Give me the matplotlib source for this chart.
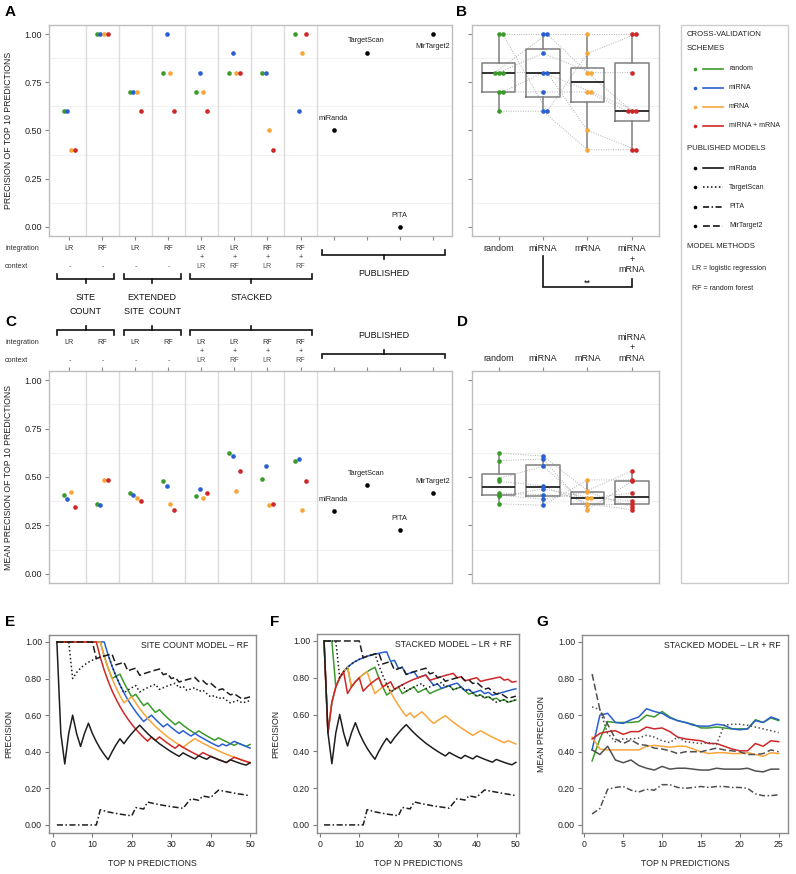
import matplotlib.pyplot as plt
import matplotlib.transforms as mtransforms
import numpy as np

plt.rcParams['font.family'] = ['Liberation Sans', 'DejaVu Sans']

W, H = 796, 874

# ---------------- data ----------------
schemes = ['random', 'miRNA', 'mRNA', 'miRNA + mRNA']
scheme_ticks = ['random', 'miRNA', 'mRNA', 'miRNA\n+\nmRNA']
integration = ['LR', 'RF', 'LR', 'RF', 'LR', 'LR', 'RF', 'RF']
stack_plus = ['', '', '', '', '+', '+', '+', '+']
context = ['-', '-', '-', '-', 'LR', 'RF', 'LR', 'RF']
published = ['miRanda', 'TargetScan', 'PITA', 'MirTarget2']

# precision of top 10 predictions (8 models per scheme)
prec10_random = [0.6, 1.0, 0.7, 0.8, 0.7, 0.8, 0.8, 1.0]
prec10_mirna = [0.6, 1.0, 0.7, 1.0, 0.8, 0.9, 0.8, 0.6]
prec10_mrna = [0.4, 1.0, 0.7, 0.8, 0.7, 0.8, 0.5, 0.9]
prec10_both = [0.4, 1.0, 0.6, 0.6, 0.6, 0.8, 0.4, 1.0]
prec10_pub = [0.5, 0.9, 0.0, 1.0]

# mean precision of top 10 predictions
mean10_random = [0.407, 0.362, 0.416, 0.478, 0.400, 0.624, 0.492, 0.584]
mean10_mirna = [0.385, 0.354, 0.409, 0.454, 0.438, 0.608, 0.555, 0.593]
mean10_mrna = [0.423, 0.485, 0.393, 0.362, 0.393, 0.430, 0.354, 0.331]
mean10_both = [0.347, 0.485, 0.378, 0.331, 0.418, 0.532, 0.362, 0.477]
mean10_pub = [0.324, 0.459, 0.224, 0.416]

# precision at top N (N = 1..50), published models
miranda_prec = [1.0, 0.5, 0.333, 0.5, 0.6, 0.5, 0.429, 0.5, 0.556, 0.5,
                0.455, 0.417, 0.385, 0.357, 0.4, 0.438, 0.471, 0.444, 0.474, 0.5,
                0.524, 0.545, 0.522, 0.5, 0.48, 0.462, 0.444, 0.429, 0.414, 0.4,
                0.387, 0.375, 0.394, 0.382, 0.371, 0.361, 0.378, 0.368, 0.359, 0.375,
                0.366, 0.357, 0.349, 0.341, 0.356, 0.348, 0.34, 0.333, 0.327, 0.34]
targetscan_prec = [1, 1, 1, 1, 0.8, 0.833, 0.857, 0.875, 0.889, 0.9,
                   0.909, 0.917, 0.923, 0.929, 0.867, 0.813, 0.765, 0.722, 0.737, 0.75,
                   0.762, 0.727, 0.739, 0.75, 0.76, 0.769, 0.741, 0.75, 0.759, 0.767,
                   0.774, 0.75, 0.758, 0.735, 0.743, 0.75, 0.73, 0.737, 0.718, 0.7,
                   0.707, 0.69, 0.698, 0.682, 0.667, 0.674, 0.681, 0.667, 0.673, 0.68]
pita_prec = [0, 0, 0, 0, 0, 0, 0, 0, 0, 0,
             0, 0.083, 0.077, 0.071, 0.067, 0.063, 0.059, 0.056, 0.053, 0.05,
             0.095, 0.091, 0.087, 0.125, 0.12, 0.115, 0.111, 0.107, 0.103, 0.1,
             0.097, 0.094, 0.091, 0.118, 0.143, 0.139, 0.135, 0.158, 0.154, 0.15,
             0.171, 0.19, 0.186, 0.182, 0.178, 0.174, 0.17, 0.167, 0.163, 0.16]
mirtarget2_prec = [1, 1, 1, 1, 1, 1, 1, 1, 1, 1,
                   0.909, 0.917, 0.923, 0.929, 0.933, 0.875, 0.882, 0.889, 0.842, 0.85,
                   0.857, 0.818, 0.826, 0.833, 0.84, 0.846, 0.852, 0.821, 0.828, 0.8,
                   0.806, 0.781, 0.788, 0.794, 0.8, 0.806, 0.784, 0.789, 0.769, 0.775,
                   0.756, 0.738, 0.744, 0.727, 0.711, 0.717, 0.702, 0.688, 0.694, 0.7]

# site count model - RF
green_E = [1, 1, 1, 1, 1, 1, 1, 1, 1, 1,
           1, 1, 0.923, 0.857, 0.8, 0.813, 0.824, 0.778, 0.737, 0.7,
           0.714, 0.682, 0.652, 0.667, 0.64, 0.615, 0.63, 0.607, 0.586, 0.567,
           0.548, 0.563, 0.545, 0.529, 0.514, 0.5, 0.514, 0.5, 0.487, 0.475,
           0.463, 0.476, 0.465, 0.455, 0.444, 0.435, 0.447, 0.438, 0.429, 0.44]
blue_E = [1, 1, 1, 1, 1, 1, 1, 1, 1, 1,
          1, 1, 1, 0.929, 0.867, 0.813, 0.765, 0.722, 0.684, 0.65,
          0.619, 0.591, 0.565, 0.583, 0.6, 0.577, 0.556, 0.536, 0.552, 0.533,
          0.516, 0.5, 0.515, 0.5, 0.486, 0.5, 0.486, 0.474, 0.462, 0.45,
          0.439, 0.429, 0.442, 0.432, 0.444, 0.457, 0.447, 0.438, 0.429, 0.42]
orange_E = [1, 1, 1, 1, 1, 1, 1, 1, 1, 1,
            1, 1, 0.923, 0.857, 0.8, 0.75, 0.706, 0.667, 0.684, 0.7,
            0.667, 0.636, 0.609, 0.583, 0.56, 0.538, 0.519, 0.5, 0.483, 0.467,
            0.452, 0.438, 0.424, 0.441, 0.457, 0.472, 0.459, 0.447, 0.436, 0.425,
            0.415, 0.405, 0.395, 0.386, 0.378, 0.37, 0.362, 0.354, 0.347, 0.34]
red_E = [1, 1, 1, 1, 1, 1, 1, 1, 1, 1,
         1, 0.917, 0.846, 0.786, 0.733, 0.688, 0.647, 0.611, 0.579, 0.55,
         0.524, 0.5, 0.478, 0.458, 0.48, 0.462, 0.481, 0.464, 0.448, 0.433,
         0.419, 0.438, 0.424, 0.412, 0.4, 0.389, 0.378, 0.395, 0.385, 0.375,
         0.366, 0.357, 0.349, 0.341, 0.356, 0.37, 0.362, 0.354, 0.347, 0.34]

# stacked model - LR + RF
green_F = [1, 1, 1, 0.75, 0.8, 0.833, 0.857, 0.75, 0.778, 0.8,
           0.818, 0.833, 0.846, 0.857, 0.8, 0.75, 0.706, 0.722, 0.737, 0.75,
           0.714, 0.727, 0.739, 0.75, 0.72, 0.731, 0.741, 0.714, 0.724, 0.733,
           0.742, 0.75, 0.758, 0.735, 0.743, 0.75, 0.73, 0.711, 0.718, 0.7,
           0.707, 0.69, 0.698, 0.682, 0.689, 0.674, 0.681, 0.667, 0.673, 0.68]
blue_F = [1, 0.5, 0.667, 0.75, 0.8, 0.833, 0.857, 0.875, 0.889, 0.9,
          0.909, 0.917, 0.923, 0.929, 0.933, 0.938, 0.941, 0.889, 0.895, 0.85,
          0.857, 0.818, 0.826, 0.833, 0.8, 0.808, 0.815, 0.786, 0.759, 0.767,
          0.742, 0.75, 0.758, 0.765, 0.771, 0.75, 0.73, 0.737, 0.718, 0.725,
          0.732, 0.714, 0.721, 0.705, 0.711, 0.717, 0.723, 0.729, 0.735, 0.74]
orange_F = [1, 0.5, 0.667, 0.75, 0.8, 0.833, 0.857, 0.75, 0.778, 0.8,
            0.818, 0.833, 0.769, 0.714, 0.733, 0.75, 0.765, 0.722, 0.684, 0.65,
            0.619, 0.591, 0.609, 0.583, 0.6, 0.615, 0.593, 0.571, 0.552, 0.567,
            0.581, 0.594, 0.576, 0.559, 0.543, 0.528, 0.514, 0.5, 0.487, 0.5,
            0.512, 0.5, 0.488, 0.477, 0.467, 0.457, 0.447, 0.458, 0.449, 0.44]
red_F = [1, 0.5, 0.667, 0.75, 0.8, 0.833, 0.714, 0.75, 0.778, 0.8,
         0.727, 0.75, 0.769, 0.786, 0.8, 0.75, 0.765, 0.778, 0.737, 0.75,
         0.762, 0.773, 0.783, 0.792, 0.8, 0.808, 0.815, 0.786, 0.793, 0.8,
         0.806, 0.813, 0.818, 0.824, 0.8, 0.806, 0.784, 0.789, 0.795, 0.8,
         0.78, 0.786, 0.791, 0.795, 0.8, 0.804, 0.787, 0.792, 0.776, 0.78]

# mean precision at top N (N = 1..25), stacked model - LR + RF
green_G = [0.35, 0.47, 0.565, 0.56, 0.56, 0.56, 0.565, 0.6, 0.59, 0.62,
           0.59, 0.57, 0.56, 0.55, 0.53, 0.53, 0.535, 0.53, 0.525, 0.525,
           0.525, 0.575, 0.56, 0.585, 0.57]
blue_G = [0.41, 0.6, 0.61, 0.56, 0.555, 0.575, 0.59, 0.635, 0.62, 0.61,
          0.585, 0.57, 0.56, 0.545, 0.54, 0.54, 0.55, 0.545, 0.525, 0.52,
          0.525, 0.57, 0.56, 0.59, 0.575]
orange_G = [0.48, 0.415, 0.41, 0.41, 0.41, 0.41, 0.41, 0.43, 0.435, 0.43,
            0.425, 0.43, 0.43, 0.415, 0.4, 0.39, 0.395, 0.395, 0.39, 0.39,
            0.395, 0.385, 0.375, 0.395, 0.39]
red_G = [0.47, 0.5, 0.51, 0.515, 0.495, 0.51, 0.51, 0.535, 0.525, 0.53,
         0.51, 0.48, 0.47, 0.465, 0.46, 0.445, 0.445, 0.43, 0.415, 0.405,
         0.405, 0.445, 0.43, 0.46, 0.455]
miranda_G = [0.41, 0.385, 0.43, 0.355, 0.34, 0.355, 0.325, 0.31, 0.3, 0.32,
             0.305, 0.31, 0.31, 0.305, 0.3, 0.3, 0.31, 0.305, 0.305, 0.305,
             0.31, 0.295, 0.29, 0.305, 0.305]
targetscan_G = [0.645, 0.63, 0.5, 0.455, 0.47, 0.47, 0.475, 0.49, 0.48, 0.46,
                0.45, 0.48, 0.455, 0.45, 0.445, 0.45, 0.44, 0.545, 0.55, 0.55,
                0.545, 0.535, 0.525, 0.515, 0.505]
pita_G = [0.06, 0.09, 0.195, 0.205, 0.21, 0.19, 0.18, 0.195, 0.19, 0.22,
          0.22, 0.205, 0.2, 0.205, 0.21, 0.205, 0.21, 0.21, 0.205, 0.205,
          0.2, 0.17, 0.16, 0.16, 0.165]
mirtarget2_G = [0.825, 0.63, 0.55, 0.47, 0.445, 0.465, 0.44, 0.435, 0.42, 0.415,
                0.405, 0.39, 0.4, 0.4, 0.4, 0.41, 0.42, 0.41, 0.405, 0.4,
                0.385, 0.385, 0.39, 0.41, 0.4]

# ---------------- style ----------------
COLORS = ['#3a9a2a', '#2a5fd0', '#f7a63a', '#cf2727']
PUB_STYLES = ['-', (0, (1, 1.6)), (0, (4, 1.6, 1, 1.6)), (0, (4.5, 2))]
DODGE = [-0.18, -0.06, 0.06, 0.18]
TXT = '#222222'

fig = plt.figure(figsize=(W / 100, H / 100), dpi=100, facecolor='white')

ov = fig.add_axes([0, 0, 1, 1])
ov.axis('off')
ov.set_autoscale_on(False)
ov.set_xlim(0, W)
ov.set_ylim(H, 0)


def px_axes(l, t, r, b):
    return fig.add_axes([l / W, 1 - b / H, (r - l) / W, (b - t) / H])


def blend(ax):
    return mtransforms.blended_transform_factory(ax.transData, ov.transData)


def light_frame(ax):
    for s in ax.spines.values():
        s.set_color('#bdbdbd')
        s.set_linewidth(1.0)
    ax.tick_params(color='#888888', length=3, width=0.8, labelsize=6.5,
                   labelcolor=TXT, pad=2)
    for y in [0.125, 0.375, 0.625, 0.875]:
        ax.axhline(y, color='#f1f1f1', lw=0.8, zorder=0)
    ax.set_ylim(-0.047, 1.047)
    ax.set_yticks([0, 0.25, 0.5, 0.75, 1.0])


def dot_panel(ax, groups, pub, label_dy):
    light_frame(ax)
    for j in range(8):
        ax.axvline(j + 1.5, color='#dcdcdc', lw=1.0, zorder=1)
    pos = np.arange(1, 9)
    for vals, c, d in zip(groups, COLORS, DODGE):
        ax.scatter(pos + d, vals, s=11, color=c, linewidths=0, zorder=3)
    ppos = np.arange(9, 13)
    ax.scatter(ppos, pub, s=11, color='black', linewidths=0, zorder=3)
    for x, y, name, dy in zip(ppos, pub, published, label_dy):
        ax.text(x, y + dy, name, ha='center', va='center', fontsize=5.3, color=TXT)
    ax.set_xlim(0.38, 12.59)
    ax.set_xticks(np.arange(1, 13))
    ax.set_xticklabels([])
    ax.set_yticklabels(['0.00', '0.25', '0.50', '0.75', '1.00'])


def box_panel(ax, groups):
    light_frame(ax)
    xs_all = []
    for i, vals in enumerate(groups):
        r = np.round(np.asarray(vals), 3)
        offs = np.zeros(len(r))
        for v in np.unique(r):
            idx = np.where(r == v)[0]
            offs[idx] = (np.arange(len(idx)) - (len(idx) - 1) // 2) * 0.09
        xs_all.append(i + 1 + offs)
    for m in range(len(groups[0])):
        ax.plot([xs[m] for xs in xs_all], [g[m] for g in groups],
                ls=(0, (1, 1.5)), color='#b0b0b0', lw=0.7, zorder=1)
    ax.boxplot(groups, positions=[1, 2, 3, 4], widths=0.75, showfliers=False,
               showcaps=False,
               medianprops=dict(color='#222222', lw=1.3),
               boxprops=dict(color='#7f7f7f', lw=1.1),
               whiskerprops=dict(color='#7f7f7f', lw=1.1))
    for xs, vals, c in zip(xs_all, groups, COLORS):
        ax.scatter(xs, vals, s=11, color=c, linewidths=0, zorder=3)
    ax.set_xlim(0.4, 4.61)
    ax.set_xticks([1, 2, 3, 4])
    ax.set_xticklabels(scheme_ticks, fontsize=6.5)
    ax.set_yticklabels([])


def model_table(ax, y_int, y_plus, y_ctx):
    bt = blend(ax)
    ov.text(5, y_int, 'integration', fontsize=5.2, va='center', color='#333333')
    ov.text(5, y_ctx, 'context', fontsize=5.2, va='center', color='#333333')
    for j in range(8):
        ov.text(j + 1, y_int, integration[j], transform=bt, ha='center',
                va='center', fontsize=5.2, color='#333333')
        ov.text(j + 1, y_plus, stack_plus[j], transform=bt, ha='center',
                va='center', fontsize=5.2, color='#333333')
        ov.text(j + 1, y_ctx, context[j], transform=bt, ha='center',
                va='center', fontsize=5.2, color='#555555')


def bracket(ax, x0, x1, y_end, y_bar, y_tip):
    bt = blend(ax)
    xm = (x0 + x1) / 2
    ov.plot([x0, x0, x1, x1], [y_end, y_bar, y_bar, y_end], transform=bt,
            color='#111111', lw=1.2, solid_joinstyle='miter')
    ov.plot([xm, xm], [y_bar, y_tip], transform=bt, color='#111111', lw=1.2)


def curve_panel(ax, n, colored, black, pub_color, xlim, xticks, ylabel, title,
                ylab_x):
    for vals, c in zip(colored, COLORS):
        ax.plot(n, vals, color=c, lw=1.1)
    for vals, ls in zip(black, PUB_STYLES):
        ax.plot(n, vals, color=pub_color, lw=1.1, ls=ls)
    ax.set_xlim(*xlim)
    ax.set_ylim(-0.044, 1.038)
    ax.set_xticks(xticks)
    ax.set_yticks([0, 0.2, 0.4, 0.6, 0.8, 1.0])
    ax.set_yticklabels(['0.00', '0.20', '0.40', '0.60', '0.80', '1.00'])
    for s in ax.spines.values():
        s.set_color('#8c8c8c')
        s.set_linewidth(1.0)
    ax.tick_params(color='#777777', length=3, width=0.8, labelsize=6.3,
                   labelcolor=TXT, pad=2)
    ax.set_xlabel('TOP N PREDICTIONS', fontsize=6.3, color=TXT)
    ax.xaxis.set_label_coords(0.5, -0.13)
    ax.set_ylabel(ylabel, fontsize=6.3, color=TXT)
    ax.yaxis.set_label_coords(ylab_x, 0.5)
    ax.text(0.965, 0.945, title, transform=ax.transAxes, ha='right',
            va='center', fontsize=6.3, color=TXT)


# ---------------- panel A ----------------
axA = px_axes(49, 25, 452, 236)
dot_panel(axA, [prec10_random, prec10_mirna, prec10_mrna, prec10_both],
          prec10_pub, [0.06, 0.065, 0.06, -0.065])
axA.set_ylabel('PRECISION OF TOP 10 PREDICTIONS', fontsize=6.3, color=TXT)
axA.yaxis.set_label_coords(-0.09, 0.5)
model_table(axA, 248, 257, 267)
for x0, x1 in [(0.62, 2.36), (2.64, 4.37), (4.64, 8.36)]:
    bracket(axA, x0, x1, 274, 279, 283)
bracket(axA, 8.66, 12.38, 250, 255, 259)
ov.text(10.52, 273, 'PUBLISHED', transform=blend(axA), ha='center',
        va='center', fontsize=6.5, color='#111111')

# group names shared by the A and C brackets
group_names = [['SITE', 'COUNT'], ['EXTENDED', 'SITE  COUNT'], ['STACKED']]
group_mid = [1.49, 3.505, 6.5]
for lines, xm in zip(group_names, group_mid):
    for k, t in enumerate(lines):
        ov.text(xm, 297 + 14 * k, t, transform=blend(axA), ha='center',
                va='center', fontsize=6.5, color='#111111')

# ---------------- panel B ----------------
axB = px_axes(472, 25, 659, 236)
box_panel(axB, [prec10_random, prec10_mirna, prec10_mrna, prec10_both])
axB.tick_params(axis='x', pad=3)
bB = blend(axB)
ov.plot([2, 2, 4, 4], [256, 287, 287, 279], transform=bB, color='#111111',
        lw=1.2, solid_joinstyle='miter')
ov.text(3, 283, '**', transform=bB, ha='center', va='center', fontsize=6.5)

# ---------------- panel C ----------------
axC = px_axes(49, 371, 452, 583)
dot_panel(axC, [mean10_random, mean10_mirna, mean10_mrna, mean10_both],
          mean10_pub, [0.06, 0.06, 0.06, 0.062])
axC.xaxis.tick_top()
axC.set_ylabel('MEAN PRECISION OF TOP 10 PREDICTIONS', fontsize=6.3, color=TXT)
axC.yaxis.set_label_coords(-0.09, 0.5)
model_table(axC, 342, 351, 361)
for x0, x1 in [(0.62, 2.36), (2.64, 4.37), (4.64, 8.36)]:
    bracket(axC, x0, x1, 335, 330, 326)
bracket(axC, 8.66, 12.38, 358, 354, 350)
ov.text(10.52, 336, 'PUBLISHED', transform=blend(axC), ha='center',
        va='center', fontsize=6.5, color='#111111')

# ---------------- panel D ----------------
axD = px_axes(472, 371, 659, 583)
box_panel(axD, [mean10_random, mean10_mirna, mean10_mrna, mean10_both])
axD.xaxis.tick_top()
axD.tick_params(axis='x', pad=3)

# ---------------- legend box ----------------
ov.add_patch(plt.Rectangle((681, 25), 107, 558, fill=False, ec='#cccccc', lw=1))
ov.text(687, 35, 'CROSS-VALIDATION', fontsize=5.6, va='center', color=TXT)
ov.text(687, 48, 'SCHEMES', fontsize=5.6, va='center', color=TXT)
for k, (lab, c) in enumerate(zip(schemes, COLORS)):
    y = 69 + 18.9 * k
    ov.plot([695], [y], 'o', ms=2.6, color=c, mec='none')
    ov.plot([703, 723], [y, y], color=c, lw=1.2)
    ov.text(729, y, lab, fontsize=5.0, va='center', color=TXT)
ov.text(687, 148, 'PUBLISHED MODELS', fontsize=5.6, va='center', color=TXT)
for k, (lab, ls) in enumerate(zip(published, PUB_STYLES)):
    y = 168 + 19.3 * k
    ov.plot([695], [y], 'o', ms=2.6, color='black', mec='none')
    ov.plot([703, 723], [y, y], color='black', lw=1.1, ls=ls)
    ov.text(729, y, lab, fontsize=5.0, va='center', color=TXT)
ov.text(687, 247, 'MODEL METHODS', fontsize=5.6, va='center', color=TXT)
ov.text(692, 269, 'LR = logistic regression', fontsize=5.0, va='center', color=TXT)
ov.text(692, 288, 'RF = random forest', fontsize=5.0, va='center', color=TXT)

# ---------------- panels E, F, G ----------------
n50 = np.arange(1, 51)
n25 = np.arange(1, 26)
pub_curves = [miranda_prec, targetscan_prec, pita_prec, mirtarget2_prec]

axE = px_axes(49, 635, 256, 833)
curve_panel(axE, n50, [green_E, blue_E, orange_E, red_E], pub_curves, '#1e1e1e',
            (-1.0, 51.5), [0, 10, 20, 30, 40, 50], 'PRECISION',
            'SITE COUNT MODEL \u2013 RF', -0.175)

axF = px_axes(317, 634, 519, 833)
curve_panel(axF, n50, [green_F, blue_F, orange_F, red_F], pub_curves, '#1e1e1e',
            (-0.8, 50.8), [0, 10, 20, 30, 40, 50], 'PRECISION',
            'STACKED MODEL \u2013 LR + RF', -0.18)

axG = px_axes(582, 635, 788, 833)
curve_panel(axG, n25, [green_G, blue_G, orange_G, red_G],
            [miranda_G, targetscan_G, pita_G, mirtarget2_G], '#505050',
            (-0.3, 26.2), [0, 5, 10, 15, 20, 25], 'MEAN PRECISION',
            'STACKED MODEL \u2013 LR + RF', -0.175)

# panel letters
for letter, x, y in [('A', 5, 12), ('B', 456, 12), ('C', 5, 322), ('D', 457, 322),
                     ('E', 5, 622), ('F', 270, 622), ('G', 536, 622)]:
    ov.text(x, y, letter, fontsize=11, fontweight='bold', va='center', ha='left')

fig.savefig('out.png', dpi=100, facecolor='white')
